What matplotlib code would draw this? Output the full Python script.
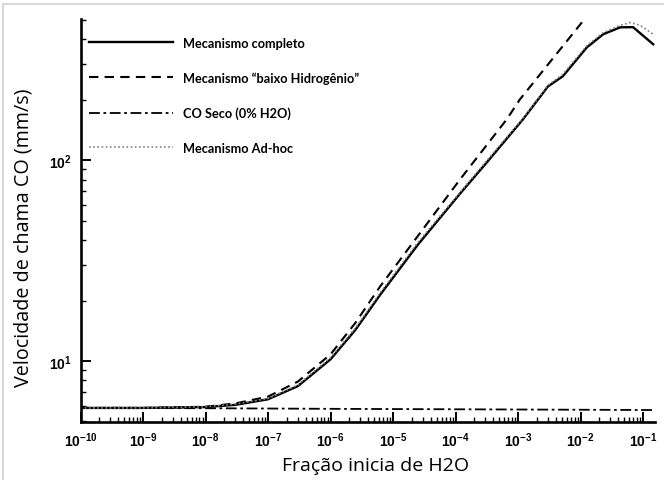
import matplotlib
matplotlib.use("Agg")
import matplotlib.pyplot as plt
from matplotlib.patches import Rectangle
from matplotlib.ticker import LogLocator, NullFormatter, FuncFormatter
import numpy as np

plt.rcParams['mathtext.fontset'] = 'custom'
plt.rcParams['mathtext.rm'] = 'Liberation Sans:bold'
plt.rcParams['mathtext.it'] = 'Liberation Sans:bold'
plt.rcParams['mathtext.bf'] = 'Liberation Sans:bold'

# ---- data ----
x_completo = [1e-10, 1e-9, 1e-8, 3e-8, 1e-7, 3e-7, 1e-6, 2.5e-6, 6.3e-6, 2.5e-5,
              1.17e-4, 3.2e-4, 1.2e-3, 3.0e-3, 5.2e-3, 1.26e-2, 2.3e-2, 4.3e-2, 6.9e-2, 0.145]
y_completo = [5.84, 5.84, 5.9, 6.05, 6.45, 7.5, 10.2, 14.3, 21.5, 38,
              68, 98, 160, 233, 262, 365, 424, 459, 460, 378]

x_baixoH = [1e-10, 1e-9, 1e-8, 3e-8, 1e-7, 3e-7, 1e-6, 2.5e-6, 6.2e-6, 2.5e-5,
            1.17e-4, 6.6e-4, 1.07e-3, 1.05e-2]
y_baixoH = [5.84, 5.84, 5.92, 6.15, 6.65, 7.9, 10.8, 15.5, 23.5, 42,
            80, 160, 201, 486]

x_seco = [1e-10, 1e-8, 1e-6, 1e-4, 1e-2, 0.15]
y_seco = [5.84, 5.82, 5.78, 5.75, 5.72, 5.70]

x_adhoc = [1e-10, 1e-9, 1e-8, 3e-8, 1e-7, 3e-7, 1e-6, 2.5e-6, 6.3e-6, 2.5e-5,
           1.17e-4, 3.2e-4, 1.2e-3, 3.0e-3, 5.2e-3, 1.26e-2, 2.3e-2, 4.3e-2, 6.3e-2, 8.9e-2, 0.145]
y_adhoc = [5.84, 5.84, 5.92, 6.1, 6.5, 7.6, 10.4, 14.6, 22.0, 39,
           69, 100, 162, 236, 268, 372, 432, 470, 485, 470, 424]

labels = ['Mecanismo completo', 'Mecanismo \u201cbaixo Hidrog\u00eanio\u201d',
          'CO Seco (0% H2O)', 'Mecanismo Ad-hoc']

W, H = 664, 481
fig = plt.figure(figsize=(W / 100, H / 100), dpi=100)
ax = fig.add_axes([80.5 / W, (H - 423) / H, (655 - 80.5) / W, (423 - 20) / H])

ax.plot(x_completo, y_completo, color='black', lw=1.7, ls='-', label=labels[0])
ax.plot(x_baixoH, y_baixoH, color='black', lw=1.5, ls=(0, (4.5, 3)), label=labels[1])
ax.plot(x_seco, y_seco, color='black', lw=1.3, ls=(0, (6, 2, 1.5, 2)), label=labels[2])
ax.plot(x_adhoc, y_adhoc, color='#808080', lw=1.2, ls=(0, (1, 1.5)), label=labels[3])

ax.set_xscale('log')
ax.set_yscale('log')
ax.set_xlim(1e-10, 10 ** -0.81)
ax.set_ylim(4.97, 505)


def pow_fmt(v, pos):
    return r'$\mathbf{10^{%d}}$' % int(round(np.log10(v)))


ax.xaxis.set_major_locator(LogLocator(base=10, numticks=20))
ax.xaxis.set_major_formatter(FuncFormatter(pow_fmt))
ax.xaxis.set_minor_locator(LogLocator(base=10, subs=range(2, 10), numticks=20))
ax.xaxis.set_minor_formatter(NullFormatter())
ax.yaxis.set_major_formatter(FuncFormatter(pow_fmt))
ax.yaxis.set_minor_locator(LogLocator(base=10, subs=range(2, 10), numticks=20))
ax.yaxis.set_minor_formatter(NullFormatter())

for s in ['top', 'right']:
    ax.spines[s].set_visible(False)
for s in ['left', 'bottom']:
    ax.spines[s].set_linewidth(1.9)

ax.tick_params(which='major', direction='in', length=7, width=1.4, labelsize=10, pad=6)
ax.tick_params(which='minor', direction='in', length=3.5, width=1.0)

ax.set_xlabel('Fra\u00e7\u00e3o inicia de H2O', fontsize=14, family='Open Sans')
ax.set_ylabel('Velocidade de chama CO (mm/s)', fontsize=14.2, family='Open Sans')
ax.xaxis.set_label_coords(0.514, -0.085)
ax.yaxis.set_label_coords(-0.082, 0.46)

leg = ax.legend(loc='upper left', bbox_to_anchor=(-0.005, 0.985), frameon=False,
                handlelength=6.6, handletextpad=0.75, labelspacing=1.78,
                prop={'family': 'Lato', 'weight': 'bold', 'size': 9.2})

fig.patches.append(Rectangle((3 / W, -0.1), 1.2, (H - 5) / H + 0.1, transform=fig.transFigure,
                             fill=False, edgecolor='#d9d9d9', lw=1.5))

fig.savefig('out.png', dpi=100)
